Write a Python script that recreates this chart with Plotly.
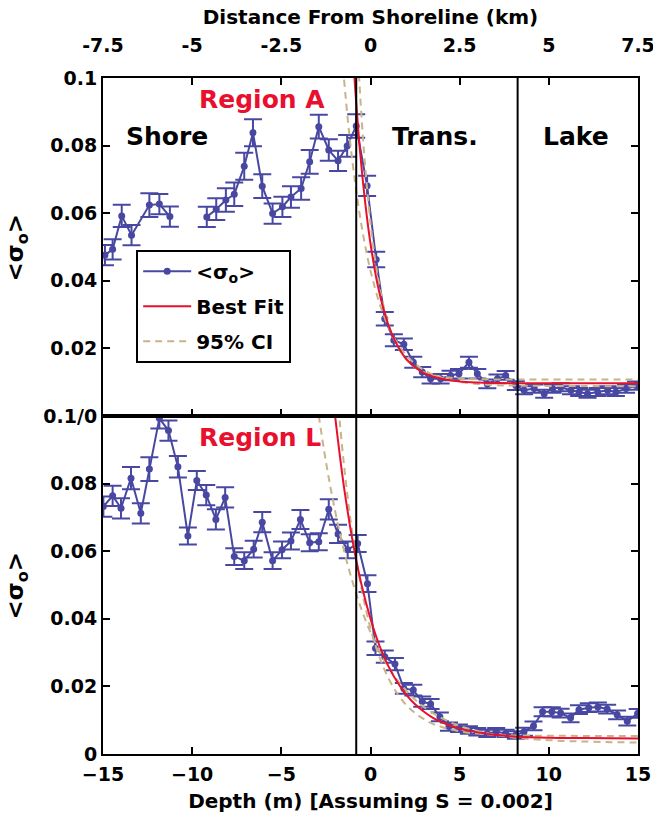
import plotly.graph_objects as go

# ---------------- data ----------------
# Region A (top panel); None marks bins with no data (gap in the line)
depth_A = [-14.89, -14.46, -13.95, -13.40, -12.40, -11.84, -11.25, -10.2,
           -9.18, -8.65, -8.11, -7.64, -7.08, -6.59, -6.07, -5.49, -4.94, -4.46,
           -3.89, -3.41, -2.90, -2.34, -1.82, -1.31, -0.80,
           -0.19, 0.32, 0.80, 1.31, 1.87, 2.40, 2.90, 3.37, 3.93, 4.49, 4.96,
           5.52, 5.99, 6.55, 7.12, 7.58, 8.15,
           8.61, 9.18, 9.74, 10.21, 10.67, 11.24, 11.70, 12.17, 12.74, 13.30, 13.76, 14.33, 14.89]
sigma_A = [0.0476, 0.0493, 0.0592, 0.0535, 0.0624, 0.0627, 0.0590, None,
           0.0589, 0.0612, 0.0639, 0.0656, 0.0739, 0.0838, 0.0680, 0.0599, 0.0619, 0.0648,
           0.0673, 0.0752, 0.0856, 0.0787, 0.0755, 0.0799, 0.0858,
           0.0681, 0.0463, 0.0288, 0.0224, 0.0212, 0.0159, 0.0130, 0.0110, 0.0110, 0.0120, 0.0125,
           0.0159, 0.0125, 0.0095, 0.0110, 0.0120, 0.0090,
           0.0076, 0.0081, 0.0066, 0.0081, 0.0085, 0.0076, 0.0071, 0.0066, 0.0071, 0.0076, 0.0071, 0.0081, 0.0090]
err_A = [0.0030, 0.0030, 0.0033, 0.0030, 0.0035, 0.0030, 0.0030, 0.0,
         0.0030, 0.0032, 0.0035, 0.0035, 0.0040, 0.0040, 0.0035, 0.0030, 0.0030, 0.0032,
         0.0033, 0.0035, 0.0035, 0.0032, 0.0030, 0.0032, 0.0035,
         0.0030, 0.0023, 0.0020, 0.0018, 0.0017, 0.0016, 0.0015, 0.0014, 0.0014, 0.0014, 0.0014,
         0.0016, 0.0014, 0.0013, 0.0013, 0.0013, 0.0013,
         0.0012, 0.0012, 0.0012, 0.0012, 0.0012, 0.0012, 0.0012, 0.0012, 0.0012, 0.0012, 0.0012, 0.0012, 0.0012]

fit_x_A = [-1.00, -0.90, -0.60, -0.30, 0.00, 0.40, 0.80, 1.20, 1.60, 2.00, 2.50, 3.00, 3.50, 4.00, 5.00, 6.00, 8.00, 15.0]
fit_y_A = [0.1080, 0.1000, 0.0792, 0.0633, 0.0510, 0.0388, 0.0303, 0.0242, 0.0200, 0.0169, 0.0144, 0.0127, 0.0117, 0.0110, 0.0102, 0.0099, 0.0097, 0.0097]

ci1_x_A = [-1.60, -1.20, -0.80, -0.40, 0.00, 0.50, 1.00, 1.50, 2.00, 2.50, 3.00, 3.50, 4.00, 5.00, 6.00, 7.00, 8.00, 10.0, 15.0]
ci1_y_A = [0.1066, 0.0839, 0.0666, 0.0532, 0.0430, 0.0334, 0.0265, 0.0216, 0.0180, 0.0154, 0.0136, 0.0122, 0.0113, 0.0101, 0.0095, 0.0091, 0.0090, 0.0089, 0.0088]
ci2_x_A = [-0.72, -0.66, -0.50, -0.30, 0.00, 0.30, 0.60, 1.00, 1.40, 1.80, 2.20, 2.70, 3.20, 4.00, 5.00, 6.00, 8.00, 15.0]
ci2_y_A = [0.1081, 0.1022, 0.0883, 0.0739, 0.0571, 0.0448, 0.0358, 0.0273, 0.0218, 0.0181, 0.0156, 0.0137, 0.0125, 0.0116, 0.0111, 0.0109, 0.0108, 0.0108]

# Region L (bottom panel)
depth_L = [-14.98, -14.46, -13.99, -13.43, -12.88, -12.40, -11.84, -11.33, -10.80, -10.24,
           -9.74, -9.21, -8.67, -8.15, -7.64, -7.08, -6.55, -6.07, -5.49, -4.96,
           -4.46, -3.93, -3.41, -2.90, -2.34, -1.82, -1.28, -0.72, -0.17,
           0.28, 0.80, 1.37, 1.87, 2.40, 2.90, 3.37, 3.89, 4.40, 4.96, 5.52, 5.99,
           6.55, 7.05, 7.58, 8.15, 8.61, 9.14, 9.65, 10.17, 10.66, 11.22, 11.69,
           12.24, 12.75, 13.27, 13.83, 14.40, 14.98]
sigma_L = [0.0732, 0.0764, 0.0727, 0.0816, 0.0712, 0.0843, 0.0993, 0.0957, 0.0850, 0.0645,
           0.0809, 0.0766, 0.0694, 0.0759, 0.0584, 0.0572, 0.0606, 0.0686, 0.0572, 0.0604,
           0.0630, 0.0694, 0.0625, 0.0628, 0.0724, 0.0651, 0.0604, 0.0623, 0.0504,
           0.0313, 0.0288, 0.0266, 0.0194, 0.0189, 0.0155, 0.0148, 0.0110, 0.0081, 0.0076, 0.0071, 0.0066,
           0.0061, 0.0066, 0.0061, 0.0056, 0.0066, 0.0083, 0.0125, 0.0125, 0.0121, 0.0107, 0.0131,
           0.0137, 0.0139, 0.0133, 0.0116, 0.0097, 0.0120]
err_L = [0.0030, 0.0030, 0.0030, 0.0033, 0.0030, 0.0035, 0.0030, 0.0030, 0.0032, 0.0025,
         0.0028, 0.0030, 0.0030, 0.0030, 0.0025, 0.0025, 0.0025, 0.0030, 0.0025, 0.0025,
         0.0025, 0.0028, 0.0025, 0.0025, 0.0030, 0.0027, 0.0025, 0.0025, 0.0025,
         0.0020, 0.0018, 0.0018, 0.0016, 0.0016, 0.0015, 0.0015, 0.0013, 0.0012, 0.0011, 0.0011, 0.0011,
         0.0011, 0.0011, 0.0011, 0.0011, 0.0012, 0.0013, 0.0013, 0.0013, 0.0013, 0.0013, 0.0013,
         0.0013, 0.0013, 0.0013, 0.0013, 0.0013, 0.0013]

fit_x_L = [-2.10, -1.97, -1.50, -1.00, -0.50, 0.00, 0.50, 1.00, 1.50, 2.00, 2.50, 3.00, 3.50, 4.00, 5.00, 6.00, 7.00, 8.00, 10.0, 12.0, 15.0]
fit_y_L = [0.1056, 0.0993, 0.0795, 0.0629, 0.0500, 0.0400, 0.0321, 0.0260, 0.0213, 0.0176, 0.0147, 0.0125, 0.0107, 0.0094, 0.0075, 0.0064, 0.0057, 0.0052, 0.0048, 0.0047, 0.0046]

ci1_x_L = [-3.00, -2.50, -2.00, -1.50, -1.00, -0.50, 0.00, 0.50, 1.00, 1.50, 2.00, 2.50, 3.00, 4.00, 5.00, 6.00, 7.00, 8.00, 9.00, 10.0, 11.0, 12.0, 13.5, 15.0]
ci1_y_L = [0.1036, 0.0865, 0.0723, 0.0605, 0.0508, 0.0427, 0.0360, 0.0304, 0.0258, 0.0219, 0.0188, 0.0161, 0.0139, 0.0106, 0.0083, 0.0068, 0.0057, 0.0049, 0.0044, 0.0041, 0.0038, 0.0037, 0.0035, 0.0034]
ci2_x_L = [-1.85, -1.72, -1.50, -1.22, -1.00, -0.50, 0.00, 0.50, 1.00, 1.50, 2.00, 2.50, 3.00, 3.50, 4.00, 5.00, 6.00, 7.00, 8.00, 10.0, 15.0]
ci2_y_L = [0.1058, 0.0980, 0.0862, 0.0733, 0.0646, 0.0488, 0.0372, 0.0287, 0.0225, 0.0179, 0.0145, 0.0121, 0.0103, 0.0089, 0.0080, 0.0067, 0.0061, 0.0057, 0.0055, 0.0054, 0.0053]

zone_bounds = [-0.8, 8.25]
depth_ticks = [-15, -10, -5, 0, 5, 10, 15]
km_ticks = [-7.5, -5, -2.5, 0, 2.5, 5, 7.5]
km_labels = ["-7.5", "-5", "-2.5", "0", "2.5", "5", "7.5"]
y_ticks_top = [0.02, 0.04, 0.06, 0.08, 0.1]
y_labels_top = ["0.02", "0.04", "0.06", "0.08", "0.1"]
y_ticks_bot = [0, 0.02, 0.04, 0.06, 0.08, 0.1]
y_labels_bot = ["0", "0.02", "0.04", "0.06", "0.08", "0.1/0"]

# ---------------- style ----------------
BLUE = "#4848A2"
RED = "#E8102E"
TAN = "#C8B488"
FONT = "DejaVu Sans"

fig = go.Figure()

def add_panel(xa, ya, dx, dy, de, fx, fy, c1x, c1y, c2x, c2y, show):
    fig.add_trace(go.Scatter(
        x=dx, y=dy, mode="lines+markers", xaxis=xa, yaxis=ya, connectgaps=False,
        line=dict(color=BLUE, width=2), marker=dict(color=BLUE, size=7),
        error_y=dict(type="data", array=de, color=BLUE, thickness=2, width=9),
        name="&lt;σ<sub>o</sub>&gt;", showlegend=show, legendrank=1, legendgroup="d"))
    fig.add_trace(go.Scatter(
        x=c1x, y=c1y, mode="lines", xaxis=xa, yaxis=ya,
        line=dict(color=TAN, width=2, dash="7px,5px", shape="spline"),
        name="95% CI", showlegend=show, legendrank=3, legendgroup="c"))
    fig.add_trace(go.Scatter(
        x=c2x, y=c2y, mode="lines", xaxis=xa, yaxis=ya,
        line=dict(color=TAN, width=2, dash="7px,5px", shape="spline"),
        name="95% CI", showlegend=False, legendrank=3, legendgroup="c"))
    fig.add_trace(go.Scatter(
        x=fx, y=fy, mode="lines", xaxis=xa, yaxis=ya,
        line=dict(color=RED, width=2, shape="spline"),
        name="Best Fit", showlegend=show, legendrank=2, legendgroup="f"))

add_panel("x2", "y2", depth_A, sigma_A, err_A, fit_x_A, fit_y_A,
          ci1_x_A, ci1_y_A, ci2_x_A, ci2_y_A, True)
add_panel("x", "y", depth_L, sigma_L, err_L, fit_x_L, fit_y_L,
          ci1_x_L, ci1_y_L, ci2_x_L, ci2_y_L, False)

# empty trace so that the top (km) axis is drawn
fig.add_trace(go.Scatter(x=[km_ticks[0], km_ticks[-1]], y=[None, None], xaxis="x3", yaxis="y2",
                         mode="lines", showlegend=False, hoverinfo="skip"))

tickfont = dict(family=FONT, size=19, color="black", weight=700)
axis_common = dict(showline=True, linecolor="black", linewidth=2, ticks="inside",
                   ticklen=7, tickwidth=1.5, tickcolor="black", showgrid=False,
                   zeroline=False, tickfont=tickfont, automargin=False,
                   ticklabeloverflow="allow")
title_font = dict(family=FONT, size=20, color="black", weight=700)

fig.update_layout(
    width=653, height=814,
    margin=dict(l=103, r=15, t=78, b=60),
    plot_bgcolor="white", paper_bgcolor="white",
    font=dict(family=FONT, color="black", weight=700),
    xaxis=dict(anchor="y", domain=[0, 1], range=[-15, 15], tickvals=depth_ticks,
               mirror=True, ticklabelstandoff=2,
               title=dict(text="Depth (m) [Assuming S = 0.002]", font=title_font, standoff=10),
               **axis_common),
    yaxis=dict(anchor="x", domain=[0, 0.5], range=[0, 0.1], tickvals=y_ticks_bot,
               ticktext=y_labels_bot, mirror="ticks", **axis_common),
    xaxis2=dict(anchor="y2", domain=[0, 1], range=[-15, 15], tickvals=depth_ticks,
                showticklabels=False, mirror=False, **axis_common),
    yaxis2=dict(anchor="x2", domain=[0.5, 1], range=[0, 0.1], tickvals=y_ticks_top,
                ticktext=y_labels_top, mirror="ticks", **axis_common),
    xaxis3=dict(anchor="y2", overlaying="x2", side="top", range=[-7.5, 7.5],
                tickvals=km_ticks, ticktext=km_labels, ticklabelstandoff=16,
                title=dict(text="Distance From Shoreline (km)", font=title_font, standoff=4),
                **axis_common),
    legend=dict(x=0.062, y=0.746, xanchor="left", yanchor="top",
                bgcolor="white", bordercolor="black", borderwidth=2,
                font=dict(family=FONT, size=20, color="black", weight=700),
                traceorder="grouped", itemwidth=48, tracegroupgap=6),
)

# zone boundary lines
for xb in zone_bounds:
    for xa, ya in (("x", "y"), ("x2", "y2")):
        fig.add_shape(type="line", xref=xa, yref=ya + " domain", x0=xb, x1=xb, y0=0, y1=1,
                      line=dict(color="black", width=2))

# text annotations
def ann(text, x, y, xref, yref, size, color="black"):
    fig.add_annotation(text=text, x=x, y=y, xref=xref, yref=yref, showarrow=False,
                       font=dict(family=FONT, size=size, color=color, weight=700))

ann("Region A", -6.1, 0.0935, "x2", "y2", 25, RED)
ann("Shore", -11.4, 0.0828, "x2", "y2", 25)
ann("Trans.", 3.6, 0.0828, "x2", "y2", 25)
ann("Lake", 11.5, 0.0828, "x2", "y2", 25)
ann("Region L", -6.2, 0.0935, "x", "y", 25, RED)

for yc in (0.75, 0.25):
    fig.add_annotation(text="&lt;σ<sub>o</sub>&gt;", x=-0.160, y=yc, xref="paper", yref="paper",
                       textangle=-90, showarrow=False, xanchor="center", yanchor="middle",
                       font=dict(family=FONT, size=23, color="black", weight=700))

fig.write_html("out.html")
